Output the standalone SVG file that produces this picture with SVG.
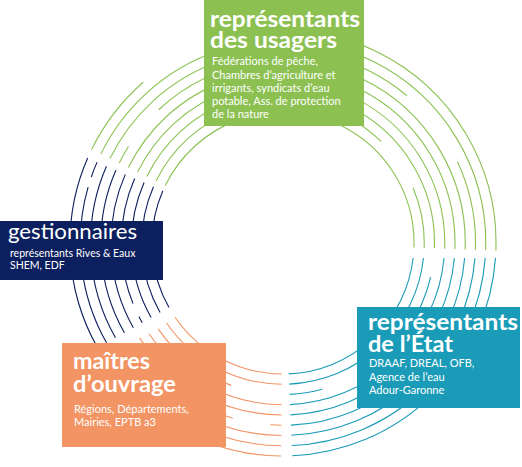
<svg xmlns="http://www.w3.org/2000/svg" width="522" height="467" viewBox="0 0 522 467">
<style>
.ring circle{fill:none;stroke-width:1.1}
.g circle{stroke:#8CC152}
.t circle{stroke:#1A9CB8}
.o circle{stroke:#F29463}
.n circle{stroke:#0C1F5E}
.title{font-family:Lato,"Open Sans",sans-serif;font-weight:700;font-size:22px;fill:#fff}
.sub{font-family:Lato,"Open Sans",sans-serif;font-size:11px;fill:#fff}
</style>
<rect width="522" height="467" fill="#fff"/>
<g id="rings" class="ring" transform="translate(283,243)">
  <g class="g">
    <circle r="131" pathLength="360" transform="rotate(206)" stroke-dasharray="156 204"/>
    <circle r="141.25" pathLength="360" transform="rotate(206)" stroke-dasharray="108 23 25 204"/>
    <circle r="151.5" pathLength="360" transform="rotate(206)" stroke-dasharray="156 204"/>
    <circle r="161.75" pathLength="360" transform="rotate(206)" stroke-dasharray="156 204"/>
    <circle r="172" pathLength="360" transform="rotate(206)" stroke-dasharray="156 204"/>
    <circle r="182.25" pathLength="360" transform="rotate(206)" stroke-dasharray="6 15 135 204"/>
    <circle r="192.5" pathLength="360" transform="rotate(206)" stroke-dasharray="104 25 27 204"/>
    <circle r="202.75" pathLength="360" transform="rotate(206)" stroke-dasharray="156 204"/>
    <circle r="213" pathLength="360" transform="rotate(206)" stroke-dasharray="23 33 100 204"/>
  </g>
  <g class="t">
    <circle r="131" pathLength="360" transform="rotate(6.6)" stroke-dasharray="80.9 279.1"/>
    <circle r="141.25" pathLength="360" transform="rotate(6.1)" stroke-dasharray="81.4 278.6"/>
    <circle r="151.5" pathLength="360" transform="rotate(13)" stroke-dasharray="42 20 12.5 285.5"/>
    <circle r="161.75" pathLength="360" transform="rotate(5.3)" stroke-dasharray="82.2 277.8"/>
    <circle r="172" pathLength="360" transform="rotate(5)" stroke-dasharray="82.5 277.5"/>
    <circle r="182.25" pathLength="360" transform="rotate(4.7)" stroke-dasharray="82.8 277.2"/>
    <circle r="192.5" pathLength="360" transform="rotate(4.5)" stroke-dasharray="83 277"/>
    <circle r="202.75" pathLength="360" transform="rotate(4.2)" stroke-dasharray="83.3 276.7"/>
    <circle r="213" pathLength="360" transform="rotate(4)" stroke-dasharray="83.5 276.5"/>
  </g>
  <g class="o">
    <circle r="131" pathLength="360" transform="rotate(90.5)" stroke-dasharray="55 305"/>
    <circle r="141.25" pathLength="360" transform="rotate(90.5)" stroke-dasharray="55 305"/>
    <circle r="151.5" pathLength="360" transform="rotate(110)" stroke-dasharray="35.5 324.5"/>
    <circle r="161.75" pathLength="360" transform="rotate(90.5)" stroke-dasharray="55.5 304.5"/>
    <circle r="172" pathLength="360" transform="rotate(90.5)" stroke-dasharray="56 304"/>
    <circle r="182.25" pathLength="360" transform="rotate(90.5)" stroke-dasharray="3.5 12 40.5 304"/>
    <circle r="192.5" pathLength="360" transform="rotate(90.5)" stroke-dasharray="56.5 303.5"/>
    <circle r="202.75" pathLength="360" transform="rotate(90.5)" stroke-dasharray="57 303"/>
    <circle r="213" pathLength="360" transform="rotate(90.5)" stroke-dasharray="57 303"/>
  </g>
  <g class="n">
    <circle r="131" pathLength="360" transform="rotate(150.5)" stroke-dasharray="53 307"/>
    <circle r="141.25" pathLength="360" transform="rotate(150.5)" stroke-dasharray="53 307"/>
    <circle r="151.5" pathLength="360" transform="rotate(150.5)" stroke-dasharray="53 307"/>
    <circle r="161.75" pathLength="360" transform="rotate(150.5)" stroke-dasharray="2.5 5 45.5 307"/>
    <circle r="172" pathLength="360" transform="rotate(150.5)" stroke-dasharray="53 307"/>
    <circle r="182.25" pathLength="360" transform="rotate(150.5)" stroke-dasharray="53 307"/>
    <circle r="192.5" pathLength="360" transform="rotate(150.5)" stroke-dasharray="53 307"/>
    <circle r="202.75" pathLength="360" transform="rotate(150.5)" stroke-dasharray="45.5 3 4.5 307"/>
    <circle r="213" pathLength="360" transform="rotate(150.5)" stroke-dasharray="53 307"/>
  </g>
</g>
<g id="usagers">
  <rect x="204" y="0" width="160" height="126" fill="#8CC152"/>
  <text class="title"><tspan x="210" y="27" textLength="150" lengthAdjust="spacingAndGlyphs">représentants</tspan><tspan x="210" y="48" textLength="127" lengthAdjust="spacingAndGlyphs">des usagers</tspan></text>
  <text class="sub"><tspan x="212" y="65">Fédérations de pêche,</tspan><tspan x="212" y="78.5">Chambres d’agriculture et</tspan><tspan x="212" y="92">irrigants, syndicats d’eau</tspan><tspan x="212" y="105">potable, Ass. de protection</tspan><tspan x="212" y="118">de la nature</tspan></text>
</g>
<g id="gestionnaires">
  <rect x="0" y="221" width="163" height="59" fill="#0C1F5E"/>
  <text class="title" x="8" y="239" style="font-weight:400;font-size:21px" textLength="129" lengthAdjust="spacingAndGlyphs">gestionnaires</text>
  <text class="sub" style="font-size:10.5px"><tspan x="10" y="257">représentants Rives &amp; Eaux</tspan><tspan x="10" y="269">SHEM, EDF</tspan></text>
</g>
<g id="etat">
  <rect x="357" y="307" width="163" height="101" fill="#1A9CB8"/>
  <text class="title"><tspan x="368" y="330" textLength="150" lengthAdjust="spacingAndGlyphs">représentants</tspan><tspan x="368" y="352" textLength="85" lengthAdjust="spacingAndGlyphs">de l’État</tspan></text>
  <text class="sub"><tspan x="369" y="367">DRAAF, DREAL, OFB,</tspan><tspan x="369" y="380.5">Agence de l’eau</tspan><tspan x="369" y="394">Adour-Garonne</tspan></text>
</g>
<g id="maitres">
  <rect x="62" y="343" width="164" height="104" fill="#F29463"/>
  <text class="title"><tspan x="73" y="369" textLength="77" lengthAdjust="spacingAndGlyphs">maîtres</tspan><tspan x="73" y="392" textLength="103" lengthAdjust="spacingAndGlyphs">d’ouvrage</tspan></text>
  <text class="sub"><tspan x="74" y="413">Régions, Départements,</tspan><tspan x="74" y="426">Mairies, EPTB a3</tspan></text>
</g>
</svg>
